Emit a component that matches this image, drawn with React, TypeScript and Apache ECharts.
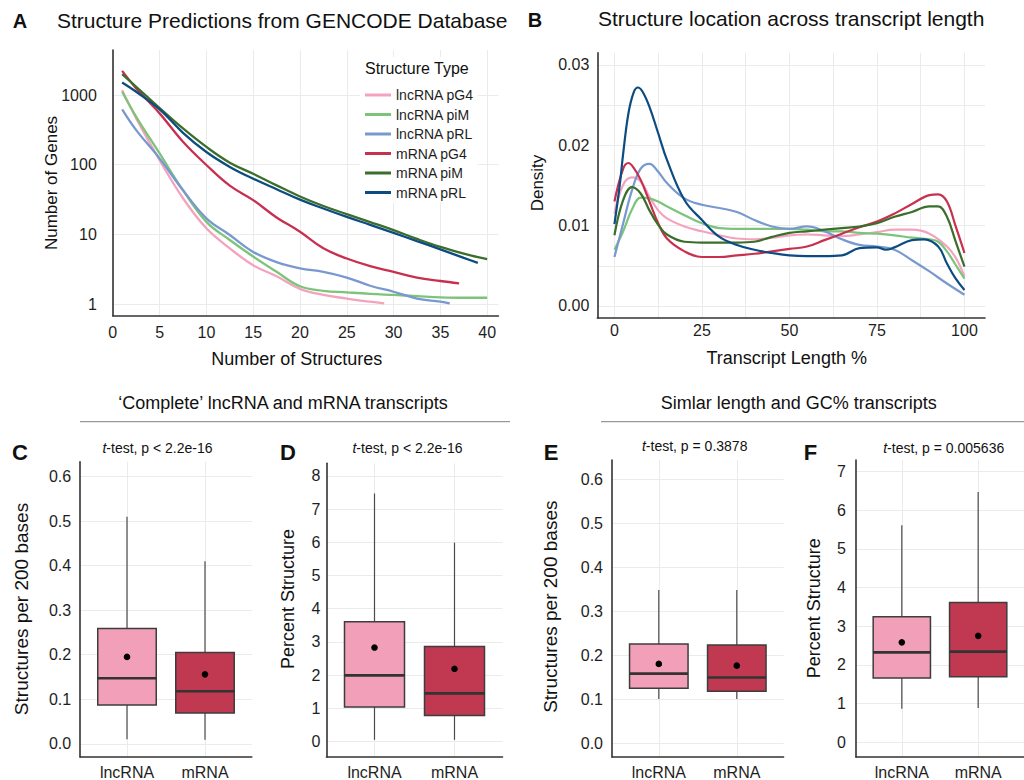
import React, { useEffect, useRef } from 'react';
import * as echarts from 'echarts';

const FONT = '"Liberation Sans", Arial, Helvetica, sans-serif';

// ---------- Panel A / B shared ----------
const seriesNames = ['lncRNA pG4', 'lncRNA piM', 'lncRNA pRL', 'mRNA pG4', 'mRNA piM', 'mRNA pRL'];
const seriesColors = ['#F4A3BF', '#7CC47A', '#7899CF', '#C8304F', '#3B6E2A', '#0D4C80'];

// Panel A: [number of structures, number of genes]
const aLncPG4 = [[1, 1175], [2.5, 462], [5, 116], [7.5, 33], [10, 12.2], [12.5, 6.3], [15, 3.6], [17.5, 2.5], [20, 1.65], [22.5, 1.35], [25, 1.2], [27.5, 1.08], [29, 1.02]];
const aLncPiM = [[1, 1112], [2.5, 487], [5, 145], [7.5, 43], [10, 15.1], [12.5, 8.3], [15, 4.8], [17.5, 2.9], [20, 1.8], [22.5, 1.55], [25, 1.47], [27.5, 1.4], [30, 1.35], [32.5, 1.3], [35, 1.25], [37.5, 1.23], [40, 1.23]];
const aLncPRL = [[1, 621], [2.5, 313], [5, 123], [7.5, 43], [10, 17], [12.5, 9.8], [15, 5.6], [17.5, 4.0], [20, 3.25], [22.5, 2.9], [25, 2.4], [27.5, 1.83], [30, 1.5], [32.5, 1.2], [35, 1.08], [36, 1.02]];
const aMrnaPG4 = [[1, 2222], [2.5, 1244], [5, 545], [7.5, 213], [10, 99], [12.5, 50], [15, 31], [17.5, 17.5], [20, 10.9], [22.5, 6.3], [25, 4.5], [27.5, 3.5], [30, 2.9], [32.5, 2.4], [35, 2.14], [37, 1.98]];
const aMrnaPiM = [[1, 1995], [2.5, 1312], [5, 650], [7.5, 331], [10, 180], [12.5, 107], [15, 74], [17.5, 50.5], [20, 35], [22.5, 25.5], [25, 19.5], [27.5, 15], [30, 11.5], [32.5, 8.6], [35, 6.6], [37.5, 5.3], [40, 4.4]];
const aMrnaPRL = [[1, 1515], [2.5, 1112], [5, 621], [7.5, 287], [10, 152], [12.5, 93], [15, 63], [17.5, 44.5], [20, 31.5], [22.5, 23.5], [25, 17.8], [27.5, 13.7], [30, 10.5], [32.5, 8.0], [35, 6.1], [37.5, 4.6], [39, 3.9]];
const aXTicks = [0, 5, 10, 15, 20, 25, 30, 35, 40];
const aYTicks = [1, 10, 100, 1000];

// Panel B: [transcript length %, density]
const bLncPG4 = [[0, 0.0115], [2.5, 0.0151], [5, 0.016], [7.5, 0.0155], [10, 0.0136], [12.5, 0.0119], [15, 0.0109], [20, 0.0099], [25, 0.0093], [30, 0.0088], [35, 0.0084], [40, 0.0083], [45, 0.0085], [50, 0.0088], [55, 0.0089], [60, 0.0088], [65, 0.0087], [70, 0.0089], [75, 0.0092], [80, 0.0095], [85, 0.0095], [90, 0.009], [95, 0.0074], [97.5, 0.006], [100, 0.0037]];
const bLncPiM = [[0, 0.007], [2.5, 0.0093], [5, 0.012], [7.5, 0.0135], [10, 0.0134], [12.5, 0.013], [15, 0.0124], [20, 0.0113], [25, 0.0103], [30, 0.0097], [35, 0.0096], [40, 0.0096], [45, 0.0096], [50, 0.0096], [55, 0.0095], [60, 0.0093], [65, 0.0093], [70, 0.0091], [75, 0.009], [80, 0.0088], [85, 0.0085], [90, 0.0083], [92.5, 0.008], [95, 0.0068], [97.5, 0.0051], [100, 0.0034]];
const bLncPRL = [[0, 0.0061], [2.5, 0.0103], [5, 0.0144], [7.5, 0.0171], [10, 0.0177], [12.5, 0.0167], [15, 0.0153], [20, 0.0134], [25, 0.0126], [30, 0.0122], [35, 0.0117], [40, 0.0107], [45, 0.0099], [50, 0.0096], [55, 0.0099], [60, 0.0093], [65, 0.0083], [70, 0.0076], [75, 0.0074], [80, 0.007], [85, 0.0057], [90, 0.0043], [95, 0.0028], [100, 0.0014]];
const bMrnaPG4 = [[0, 0.013], [2.5, 0.0171], [4, 0.0178], [5.5, 0.0172], [7.5, 0.0157], [10, 0.013], [12.5, 0.0103], [15, 0.0084], [20, 0.0068], [25, 0.0061], [30, 0.0061], [35, 0.0063], [40, 0.0065], [45, 0.0068], [50, 0.0071], [55, 0.0074], [60, 0.0082], [65, 0.009], [70, 0.0098], [75, 0.0105], [80, 0.0115], [85, 0.0127], [90, 0.0138], [92.5, 0.0139], [95, 0.013], [97.5, 0.0099], [100, 0.0066]];
const bMrnaPiM = [[0, 0.0088], [2.5, 0.0132], [5, 0.0148], [7.5, 0.014], [10, 0.0119], [12.5, 0.0101], [15, 0.0089], [20, 0.008], [25, 0.0079], [30, 0.0079], [35, 0.0079], [40, 0.008], [45, 0.0086], [50, 0.0091], [55, 0.0093], [60, 0.0095], [65, 0.0097], [70, 0.0099], [75, 0.0103], [80, 0.0111], [85, 0.0117], [90, 0.0124], [92.5, 0.0124], [95, 0.0111], [97.5, 0.008], [100, 0.0049]];
const bMrnaPRL = [[0, 0.0102], [1.5, 0.015], [2.5, 0.019], [4, 0.024], [5.5, 0.0266], [6.7, 0.0272], [8, 0.0267], [10, 0.0248], [12.5, 0.0215], [15, 0.0182], [20, 0.0132], [25, 0.0107], [30, 0.0086], [35, 0.0076], [40, 0.007], [45, 0.0066], [50, 0.0063], [55, 0.0062], [60, 0.0062], [65, 0.0063], [70, 0.0072], [75, 0.0073], [77.5, 0.007], [80, 0.0073], [85, 0.0082], [88.5, 0.0083], [92.5, 0.0074], [95, 0.0053], [97.5, 0.0034], [100, 0.002]];
const bXGrid = [0, 12.5, 25, 37.5, 50, 62.5, 75, 87.5, 100];
const bXLabels = [0, 25, 50, 75, 100];
const bYGrid = [0, 0.005, 0.01, 0.015, 0.02, 0.025, 0.03];
const bYLabels = [0, 0.01, 0.02, 0.03];

// ---------- Box panels: [min, Q1, median, Q3, max, mean] ----------
const boxCategories = ['lncRNA', 'mRNA'];
const boxFills = ['#F2A0B9', '#C13851'];
const cLnc = [0.01, 0.087, 0.147, 0.259, 0.51, 0.195];
const cMrna = [0.009, 0.069, 0.118, 0.205, 0.41, 0.156];
const dLnc = [0.05, 1.04, 1.99, 3.61, 7.47, 2.83];
const dMrna = [0.05, 0.78, 1.45, 2.86, 5.99, 2.19];
const eLnc = [0.1, 0.1245, 0.158, 0.225, 0.348, 0.18];
const eMrna = [0.1, 0.118, 0.149, 0.223, 0.348, 0.176];
const fLnc = [0.86, 1.66, 2.32, 3.24, 5.61, 2.58];
const fMrna = [0.88, 1.69, 2.34, 3.61, 6.47, 2.75];
const perBaseTicks = [0, 0.1, 0.2, 0.3, 0.4, 0.5, 0.6];
const dTicks = [0, 1, 2, 3, 4, 5, 6, 7, 8];
const fTicks = [0, 1, 2, 3, 4, 5, 6, 7];

const GRID_COLOR = '#EBEBEB';
const AXIS_COLOR = '#333';
const LABEL_COLOR = '#1e1e1e';

function boxRender(params: any, api: any) {
  const x = api.value(0);
  const pLo = api.coord([x, api.value(1)]);
  const pQ1 = api.coord([x, api.value(2)]);
  const pMed = api.coord([x, api.value(3)]);
  const pQ3 = api.coord([x, api.value(4)]);
  const pHi = api.coord([x, api.value(5)]);
  const pMean = api.coord([x, api.value(6)]);
  const w = api.size([0.75, 0])[0];
  const cx = pMed[0];
  const fill = boxFills[params.dataIndex % boxFills.length];
  return {
    type: 'group',
    children: [
      { type: 'line', shape: { x1: cx, y1: pLo[1], x2: cx, y2: pQ1[1] }, style: { stroke: '#4a4a4a', lineWidth: 1.2 } },
      { type: 'line', shape: { x1: cx, y1: pQ3[1], x2: cx, y2: pHi[1] }, style: { stroke: '#4a4a4a', lineWidth: 1.2 } },
      { type: 'rect', shape: { x: cx - w / 2, y: pQ3[1], width: w, height: pQ1[1] - pQ3[1] }, style: { fill, stroke: '#3d3d3d', lineWidth: 1.5 } },
      { type: 'line', shape: { x1: cx - w / 2, y1: pMed[1], x2: cx + w / 2, y2: pMed[1] }, style: { stroke: '#333', lineWidth: 2.6 } },
      { type: 'circle', shape: { cx: pMean[0], cy: pMean[1], r: 3.3 }, style: { fill: '#000' } },
    ],
  };
}

function txt(x: number, y: number, text: string, size: number, opts: any = {}) {
  const align = opts.align || 'center';
  return {
    type: 'text',
    x,
    y,
    z: 100,
    rotation: opts.rot || 0,
    style: {
      text,
      x: 0,
      y: 0,
      fontSize: size,
      fontFamily: FONT,
      fontWeight: opts.bold ? 'bold' : 'normal',
      fill: opts.color || '#111',
      align,
      verticalAlign: 'middle',
      textAlign: align,
      textVerticalAlign: 'middle',
      rich: opts.rich,
    },
  };
}

const italicRich = { i: { fontStyle: 'italic', fontSize: 14, fontFamily: FONT, fill: '#111' }, n: { fontSize: 14, fontFamily: FONT, fill: '#111' } };

function valueXAxis(gridIndex: number, min: number, max: number, ticks: number[], labels: number[], margin: number, fmt?: (v: number) => string) {
  return {
    type: 'value',
    gridIndex,
    min,
    max,
    axisLine: { show: true, onZero: false, lineStyle: { color: AXIS_COLOR, width: 1.6 } },
    axisTick: { show: false, customValues: ticks },
    axisLabel: { customValues: labels, margin, fontSize: 16, color: LABEL_COLOR, fontFamily: FONT, formatter: fmt || ((v: number) => String(v)) },
    splitLine: { show: true, lineStyle: { color: GRID_COLOR, width: 1 } },
  };
}

function valueYAxis(gridIndex: number, min: number, max: number, ticks: number[], labels: number[], margin: number, fmt: (v: number) => string) {
  return {
    type: 'value',
    gridIndex,
    min,
    max,
    axisLine: { show: true, onZero: false, lineStyle: { color: AXIS_COLOR, width: 1.6 } },
    axisTick: { show: false, customValues: ticks },
    axisLabel: { customValues: labels, margin, fontSize: 16, color: LABEL_COLOR, fontFamily: FONT, formatter: fmt },
    splitLine: { show: true, lineStyle: { color: GRID_COLOR, width: 1 } },
  };
}

export default function App() {
  const ref = useRef<HTMLDivElement>(null);
  useEffect(() => {
    if (!ref.current) return;
    const chart = echarts.init(ref.current, undefined, { renderer: 'svg' });
    const aData = [aLncPG4, aLncPiM, aLncPRL, aMrnaPG4, aMrnaPiM, aMrnaPRL];
    const bData = [bLncPG4, bLncPiM, bLncPRL, bMrnaPG4, bMrnaPiM, bMrnaPRL];
    const lineSeries: any[] = [];
    aData.forEach((d, i) => {
      lineSeries.push({
        type: 'line', name: seriesNames[i], xAxisIndex: 0, yAxisIndex: 0, data: d,
        smooth: 0.4, symbol: 'none', showSymbol: false,
        itemStyle: { color: seriesColors[i] }, lineStyle: { color: seriesColors[i], width: 2.3 },
      });
    });
    bData.forEach((d, i) => {
      lineSeries.push({
        type: 'line', name: seriesNames[i], xAxisIndex: 1, yAxisIndex: 1, data: d,
        smooth: 0.4, symbol: 'none', showSymbol: false,
        itemStyle: { color: seriesColors[i] }, lineStyle: { color: seriesColors[i], width: 2.2 },
      });
    });
    const boxSets = [[cLnc, cMrna], [dLnc, dMrna], [eLnc, eMrna], [fLnc, fMrna]];
    const boxSeries = boxSets.map((set, k) => ({
      type: 'custom',
      xAxisIndex: k + 2,
      yAxisIndex: k + 2,
      renderItem: boxRender,
      encode: { x: 0, y: [1, 2, 3, 4, 5, 6] },
      data: set.map((s, j) => [j + 1, ...s]),
      silent: true,
    }));
    const catFmt = (v: number) => boxCategories[Math.round(v) - 1] || '';

    const option: any = {
      animation: false,
      backgroundColor: '#ffffff',
      textStyle: { fontFamily: FONT },
      grid: [
        { left: 112.8, top: 50, width: 385.6, height: 265.7 },
        { left: 597.3, top: 52.7, width: 387.7, height: 265.3 },
        { left: 80.2, top: 461.7, width: 171.6, height: 296.6 },
        { left: 326.5, top: 463.3, width: 176, height: 296.7 },
        { left: 612, top: 460, width: 171.6, height: 298.3 },
        { left: 856, top: 460, width: 177.3, height: 298.3 },
      ],
      xAxis: [
        valueXAxis(0, 0, 41.2, aXTicks, aXTicks, 9),
        valueXAxis(1, -4.9, 105.87, bXGrid, bXLabels, 4),
        valueXAxis(2, 0.4, 2.6, [1, 2], [1, 2], 7, catFmt),
        valueXAxis(3, 0.4, 2.6, [1, 2], [1, 2], 7, catFmt),
        valueXAxis(4, 0.4, 2.6, [1, 2], [1, 2], 7, catFmt),
        valueXAxis(5, 0.4, 2.6, [1, 2], [1, 2], 7, catFmt),
      ],
      yAxis: [
        {
          type: 'log', logBase: 10, gridIndex: 0, min: 0.68, max: 4426,
          axisLine: { show: true, onZero: false, lineStyle: { color: AXIS_COLOR, width: 1.6 } },
          axisTick: { show: false, customValues: aYTicks },
          axisLabel: { customValues: aYTicks, margin: 16, fontSize: 16, color: LABEL_COLOR, fontFamily: FONT, formatter: (v: number) => String(Math.round(v)) },
          splitLine: { show: true, lineStyle: { color: GRID_COLOR, width: 1 } },
        },
        valueYAxis(1, -0.001494, 0.03153, bYGrid, bYLabels, 8, (v: number) => v.toFixed(2)),
        valueYAxis(2, -0.0297, 0.6335, perBaseTicks, perBaseTicks, 9, (v: number) => v.toFixed(1)),
        valueYAxis(3, -0.468, 8.38, dTicks, dTicks, 6, (v: number) => String(v)),
        valueYAxis(4, -0.0317, 0.6437, perBaseTicks, perBaseTicks, 9, (v: number) => v.toFixed(1)),
        valueYAxis(5, -0.387, 7.3, fTicks, fTicks, 10, (v: number) => String(v)),
      ],
      legend: {
        data: seriesNames,
        orient: 'vertical',
        left: 360,
        top: 57,
        padding: [31, 4, 3, 5],
        backgroundColor: '#ffffff',
        icon: 'rect',
        itemWidth: 26,
        itemHeight: 3,
        itemGap: 5.5,
        selectedMode: false,
        textStyle: { fontSize: 14, color: '#1e1e1e', fontFamily: FONT },
      },
      graphic: [
        txt(20, 21, 'A', 20, { bold: true }),
        txt(57, 20, 'Structure Predictions from GENCODE Database', 21, { align: 'left' }),
        txt(535, 20, 'B', 20, { bold: true }),
        txt(598, 18.5, 'Structure location across transcript length', 21, { align: 'left' }),
        txt(365, 68.3, 'Structure Type', 16, { align: 'left' }),
        txt(51.7, 183, 'Number of Genes', 17, { rot: Math.PI / 2 }),
        txt(296.7, 359, 'Number of Structures', 18),
        txt(537, 183, 'Density', 17, { rot: Math.PI / 2 }),
        txt(786.7, 358.3, 'Transcript Length %', 18),
        txt(283, 402.7, '\u2018Complete\u2019 lncRNA and mRNA transcripts', 18),
        txt(798.7, 402.7, 'Simlar length and GC% transcripts', 18),
        { type: 'line', z: 100, shape: { x1: 80, y1: 421.7, x2: 510, y2: 421.7 }, style: { stroke: '#808080', lineWidth: 1 } },
        { type: 'line', z: 100, shape: { x1: 601, y1: 421.7, x2: 1024, y2: 421.7 }, style: { stroke: '#808080', lineWidth: 1 } },
        txt(20, 452, 'C', 22, { bold: true }),
        txt(288, 452.5, 'D', 22, { bold: true }),
        txt(551, 452.5, 'E', 22, { bold: true }),
        txt(810.5, 452.5, 'F', 22, { bold: true }),
        txt(157.5, 448.3, '{i|t}{n|-test, p < 2.2e-16}', 14, { rich: italicRich }),
        txt(407.5, 448.3, '{i|t}{n|-test, p < 2.2e-16}', 14, { rich: italicRich }),
        txt(694.7, 445.7, '{i|t}{n|-test, p = 0.3878}', 14, { rich: italicRich }),
        txt(943.7, 448.3, '{i|t}{n|-test, p = 0.005636}', 14, { rich: italicRich }),
        txt(21.7, 609, 'Structures per 200 bases', 19, { rot: Math.PI / 2 }),
        txt(288.3, 599, 'Percent Structure', 18, { rot: Math.PI / 2 }),
        txt(550.3, 606.7, 'Structures per 200 bases', 19, { rot: Math.PI / 2 }),
        txt(813.7, 608.3, 'Percent Structure', 18, { rot: Math.PI / 2 }),
      ],
      series: [...lineSeries, ...boxSeries],
    };
    chart.setOption(option);
    return () => chart.dispose();
  }, []);
  return <div ref={ref} style={{ position: 'absolute', left: 0, top: 0, width: 1024, height: 780 }} />;
}
